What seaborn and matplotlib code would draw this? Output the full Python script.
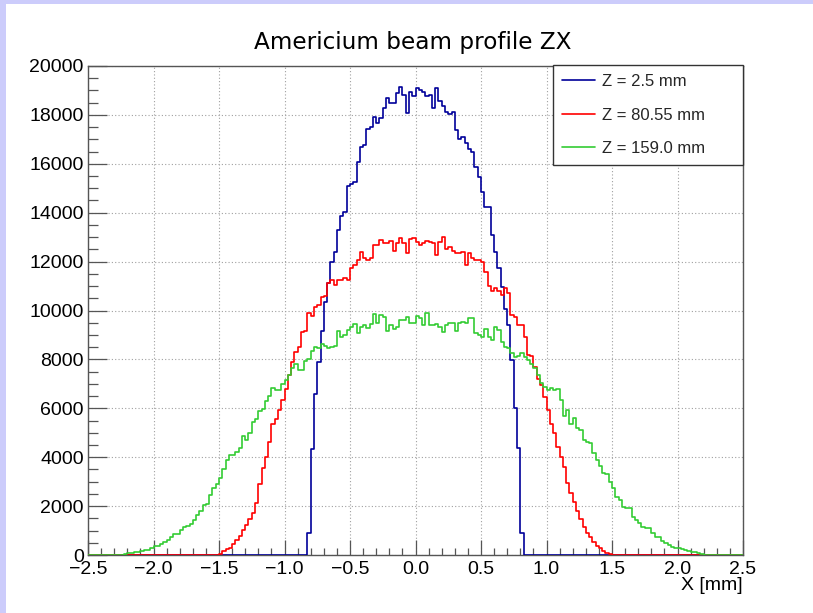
import numpy as np
import pandas as pd
import matplotlib
matplotlib.use("Agg")
import matplotlib.pyplot as plt
import seaborn as sns
from matplotlib.ticker import MultipleLocator, FuncFormatter
from matplotlib.patches import Rectangle
from matplotlib.lines import Line2D

# Histogram binning (200 bins of 0.025 mm over the X range)
X_MIN, X_MAX = -2.5, 2.5
BIN_WIDTH = 0.025

TITLE = "Americium beam profile ZX"
X_LABEL = "X [mm]"
LABELS = ["Z = 2.5 mm", "Z = 80.55 mm", "Z = 159.0 mm"]
COLORS = ["#000099", "#ff0000", "#33cc33"]

# Lower edge of the first filled bin of each profile
FIRST_EDGE = [-0.825, -1.5, -2.25]

# Counts per bin, starting at FIRST_EDGE (all other bins are empty)
COUNTS_Z_2_5 = [
    900, 4350, 6570, 7900, 9170, 10330, 11140, 11970, 12390, 13300,
    13870, 14020, 15100, 15170, 15270, 16060, 16670, 16770, 17410, 17520,
    17930, 17680, 17860, 18270, 18690, 18470, 18470, 18880, 19130, 18810,
    18060, 18920, 18770, 19090, 19000, 18940, 18760, 18800, 18300, 19120,
    18580, 18360, 18130, 18040, 18120, 17400, 17000, 17100, 16850, 16600,
    16480, 15850, 15450, 14830, 14220, 14220, 13090, 12390, 11720, 10970,
    10050, 9400, 7980, 6030, 4360, 910,
]

COUNTS_Z_80_55 = [
    60, 150, 230, 300, 430, 600, 780, 1010, 1230, 1460,
    1700, 2110, 2900, 3545, 4020, 4610, 5340, 5550, 5930, 6340,
    6780, 7360, 7900, 8300, 8490, 9130, 9175, 9910, 9775, 10160,
    10225, 10570, 10590, 11140, 11250, 11040, 11250, 11250, 11320, 11250,
    11725, 11860, 12070, 12410, 12130, 12070, 12130, 12680, 12680, 12880,
    12750, 12775, 12860, 12450, 12750, 12980, 12750, 12370, 12910, 12950,
    12800, 12680, 12775, 12840, 12820, 12750, 12270, 12820, 13020, 12500,
    12610, 12450, 12340, 12370, 12410, 11860, 12370, 12130, 12070, 12070,
    12000, 11590, 11000, 10810, 10910, 10810, 10630, 10910, 10700, 9816,
    9750, 9410, 9410, 8920, 8200, 8130, 7680, 7185, 6950, 6450,
    5930, 5370, 4990, 4420, 4020, 3600, 2930, 2540, 2160, 1790,
    1460, 1160, 886, 722, 545, 368, 273, 177, 95, 41,
]

COUNTS_Z_159_0 = [
    20, 50, 70, 85, 110, 135, 150, 190, 220, 275,
    350, 360, 450, 545, 600, 735, 860, 870, 1030, 1150,
    1200, 1280, 1450, 1640, 1800, 2060, 2100, 2450, 2750, 2900,
    3150, 3500, 3900, 4070, 4090, 4200, 4370, 4860, 4720, 5000,
    5450, 5550, 5900, 5990, 6300, 6520, 6850, 6750, 6760, 7000,
    7150, 7350, 7650, 7800, 7580, 7570, 7950, 8030, 8330, 8500,
    8460, 8650, 8530, 8470, 8520, 8560, 9180, 8930, 9000, 9200,
    9330, 9440, 9080, 9330, 9400, 9280, 9450, 9850, 9480, 9810,
    9740, 9150, 9400, 9240, 9340, 9600, 9600, 9720, 9500, 9480,
    9770, 9680, 9410, 9880, 9410, 9410, 9450, 9340, 9130, 9410,
    9475, 9475, 9175, 9475, 9545, 9475, 9680, 9680, 9070, 9000,
    8930, 9230, 8930, 8790, 9340, 9200, 8730, 8520, 8450, 8250,
    8110, 8140, 8250, 8110, 7980, 7810, 7630, 7360, 7020, 6890,
    6750, 6820, 6750, 6780, 6340, 5690, 5930, 5340, 5590, 5180,
    5110, 4700, 4635, 4570, 4190, 3890, 3650, 3370, 3310, 3000,
    2730, 2390, 2250, 1980, 1910, 1910, 1570, 1430, 1300, 1160,
    1090, 1090, 890, 750, 720, 590, 480, 410, 340, 275,
    270, 230, 205, 180, 136, 120, 80, 41, 20,
]

ALL_COUNTS = [COUNTS_Z_2_5, COUNTS_Z_80_55, COUNTS_Z_159_0]

# Long-form table: one row per filled bin (bin centre, count, profile label)
frames = []
for label, start, counts in zip(LABELS, FIRST_EDGE, ALL_COUNTS):
    centres = start + BIN_WIDTH * (np.arange(len(counts)) + 0.5)
    frames.append(pd.DataFrame({"x": centres, "count": counts, "profile": label}))
data = pd.concat(frames, ignore_index=True)

sns.set_theme(style="white")
plt.rcParams["font.family"] = ["Liberation Sans", "DejaVu Sans"]
plt.rcParams["axes.unicode_minus"] = True

W, H = 813, 613
fig = plt.figure(figsize=(W / 100, H / 100), dpi=100)
fig.patch.set_facecolor("white")

# Canvas border strips
LAVENDER = "#ccccfb"
fig.patches.append(Rectangle((0, 0), 6 / W, 1, transform=fig.transFigure,
                             facecolor=LAVENDER, edgecolor="none", zorder=0))
fig.patches.append(Rectangle((0, 1 - 4 / H), 1, 4 / H, transform=fig.transFigure,
                             facecolor=LAVENDER, edgecolor="none", zorder=0))

ax = fig.add_axes([88 / W, (H - 555) / H, 655 / W, 489 / H])
ax.set_facecolor("white")

n_bins = int(round((X_MAX - X_MIN) / BIN_WIDTH))
edges = list(np.linspace(X_MIN, X_MAX, n_bins + 1))
for i, (label, color) in enumerate(zip(LABELS, COLORS)):
    sub = data[data["profile"] == label]
    sns.histplot(data=sub, x="x", weights="count", bins=edges, element="step",
                 fill=False, color=color, linewidth=1.2, ax=ax, zorder=3 + i)

ax.set_xlim(X_MIN, X_MAX)
ax.set_ylim(0, 20000)

ax.xaxis.set_major_locator(MultipleLocator(0.5))
ax.xaxis.set_minor_locator(MultipleLocator(0.1))
ax.yaxis.set_major_locator(MultipleLocator(2000))
ax.yaxis.set_minor_locator(MultipleLocator(500))


def fmt_x(v, _pos):
    v = round(v, 2)
    if v == 0:
        v = 0.0
    return f"{v:.1f}".replace("-", "\u2212")


ax.xaxis.set_major_formatter(FuncFormatter(fmt_x))
ax.yaxis.set_major_formatter(FuncFormatter(lambda v, _p: f"{int(round(v))}"))

TICK_COLOR = "#555555"
ax.tick_params(axis="x", which="major", direction="in", length=10.6, width=0.9,
               color=TICK_COLOR, labelsize=14, pad=4, bottom=True, top=False)
ax.tick_params(axis="x", which="minor", direction="in", length=5.3, width=0.9,
               color=TICK_COLOR, bottom=True, top=False)
ax.tick_params(axis="y", which="major", direction="in", length=14, width=0.9,
               color=TICK_COLOR, labelsize=14, pad=3, left=True, right=False)
ax.tick_params(axis="y", which="minor", direction="in", length=7, width=0.9,
               color=TICK_COLOR, left=True, right=False)
for lab in ax.get_xticklabels() + ax.get_yticklabels():
    lab.set_color("black")

for spine in ax.spines.values():
    spine.set_color("#555555")
    spine.set_linewidth(1.0)

ax.set_axisbelow(True)
ax.grid(which="major", color="#a0a0a0", linestyle=(0, (1, 2)), linewidth=0.8)

ax.set_ylabel("")
ax.set_xlabel(X_LABEL, fontsize=14, color="black")
ax.xaxis.set_label_coords(1.0, (555 - 586) / 489)
ax.xaxis.label.set_ha("right")
ax.xaxis.label.set_va("center")

fig.text(413 / W, 1 - 42 / H, TITLE, ha="center", va="center",
         fontsize=16.7, family=["DejaVu Sans"], color="black")

handles = [Line2D([], [], color=c, linewidth=1.2) for c in COLORS]
leg = ax.legend(handles, LABELS, loc="upper left",
                bbox_to_anchor=((553 - 88) / 655, 0.0, (743 - 553) / 655, (555 - 65) / 489),
                mode="expand", borderaxespad=0.0, fontsize=12,
                handlelength=2.0, handletextpad=0.42, labelspacing=1.12,
                borderpad=0.53, fancybox=False, framealpha=1.0)
leg.get_frame().set_edgecolor("#333333")
leg.get_frame().set_linewidth(1.0)
leg.set_zorder(10)

fig.savefig("out.png", dpi=100)
